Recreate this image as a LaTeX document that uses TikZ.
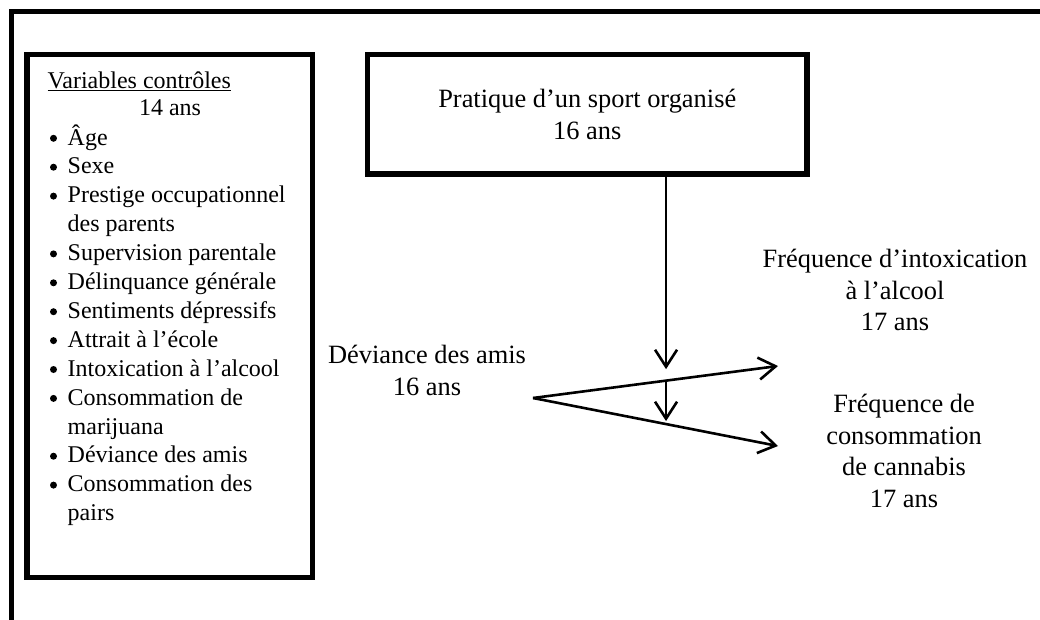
\documentclass[tikz,border=0pt]{standalone}
\usepackage{fontspec}
\setmainfont{Liberation Serif}
\usetikzlibrary{arrows.meta,positioning}
\newcommand{\grandcorps}{\fontsize{26.4}{31.4}\selectfont}
\newcommand{\petitcorps}{\fontsize{24}{28.9}\selectfont}
\tikzset{
    %Define standard arrow tip
    >={Straight Barb[length=17pt,width=22pt]},
    %Define style for boxes
    boite/.style={
           rectangle,
           draw=black, line width=5.5pt,
           minimum width=439.5pt,
           minimum height=119.5pt,
           font=\grandcorps,
           align=center},
    cadre/.style={
           rectangle,
           draw=black, line width=5.5pt,
           minimum width=285.5pt,
           minimum height=523pt},
    texte/.style={
           inner sep=0pt,
           font=\grandcorps,
           align=center},
    liste/.style={
           inner sep=0pt,
           anchor=base west,
           font=\petitcorps},
    puce/.style={
           circle,
           fill=black,
           inner sep=0pt,
           minimum size=7pt},
    % Define arrow style
    fleche/.style={
           ->,
           line width=2.6pt}
}
\begin{document}
\begin{tikzpicture}[x=1pt,y=-1pt]
\useasboundingbox (0,0) rectangle (1040,619);

 % outer frame
\draw[line width=5pt] (11,700) -- (11,11.5) -- (1100,11.5);

 %nodes
\node[cadre] (controles) at (169.75,316) {};
\node[liste] (titre) at (47.5,88) {\underline{Variables contrôles}};
\node[liste, anchor=base] (age14) at (170,115) {14 ans};
\foreach \k in {0,1,2,4,5,6,7,8,9,11,12}
    \node[puce] (puce-\k) at (53.5,{138.3+28.9*\k}) {};
\foreach \k/\mot in {0/Âge,1/Sexe,2/Prestige occupationnel,3/des parents,
    4/Supervision parentale,5/Délinquance générale,6/Sentiments dépressifs,
    7/Attrait à l’école,8/Intoxication à l’alcool,9/Consommation de,
    10/marijuana,11/Déviance des amis,12/Consommation des,13/pairs}
    \node[liste] (var-\k) at (67.5,{145+28.9*\k}) {\mot};

\node[boite] (sport) at (587.25,114.25) {Pratique d’un sport organisé\\16 ans};
\node[texte] (amis) at (427,370.5) {Déviance des amis\\16 ans};
\node[texte] (alcool) at (895,290) {Fréquence d’intoxication\\à l’alcool\\17 ans};
\node[texte] (cannabis) at (904,451) {Fréquence de\\consommation\\de cannabis\\17 ans};

 %connectors
\coordinate (sommet) at (533,398);
\coordinate (alcool-pt) at (778,366);
\coordinate (cannabis-pt) at (778,446);
\path (sommet) -- (alcool-pt) coordinate[pos=0.543] (modA);
\path (sommet) -- (cannabis-pt) coordinate[pos=0.543] (modB);

\draw[fleche] (sommet) -- (alcool-pt);
\draw[fleche] (sommet) -- (cannabis-pt);
\draw[fleche, shorten >=11.5pt] (sport.south -| modA) -- (modA);
\draw[fleche, shorten >=3pt] (modA) -- (modB);

\end{tikzpicture}
\end{document}
